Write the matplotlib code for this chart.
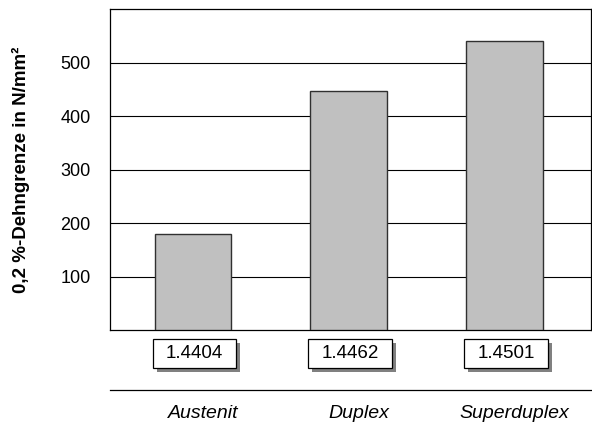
import matplotlib
matplotlib.use("Agg")
import matplotlib.pyplot as plt
from matplotlib.patches import Rectangle

categories = ["Austenit", "Duplex", "Superduplex"]
materials = ["1.4404", "1.4462", "1.4501"]
yield_strength = [180, 448, 540]
y_ticks = [100, 200, 300, 400, 500]

plt.rcParams['font.family'] = ['Liberation Sans', 'DejaVu Sans']

fig = plt.figure(figsize=(5.92, 4.25), dpi=100)
ax = fig.add_axes([0.186, 0.2235, 0.812, 0.7545])

x = list(range(len(categories)))
ax.bar(x, yield_strength, width=0.49, color='#c0c0c0', edgecolor='#303030',
       linewidth=1.0, zorder=3)

ax.set_xlim(-0.53, 2.555)
ax.set_ylim(0, 600)
ax.set_yticks(y_ticks)
ax.set_yticklabels([str(t) for t in y_ticks], fontsize=13)
ax.tick_params(axis='y', length=0, pad=14)
ax.set_xticks([])
ax.grid(axis='y', color='black', linewidth=0.8, zorder=1)
for s in ax.spines.values():
    s.set_linewidth(0.9)
    s.set_color('black')

# y label centred on the axes
fig.text(21 / 592, 0.2235 + 0.7545 / 2, "0,2 %-Dehngrenze in N/mm²",
         rotation=90, ha='center', va='center', fontsize=13.5, fontweight='bold')

# material number boxes with a grey drop shadow
trans = ax.get_xaxis_transform()
box_w, box_h = 0.535, 0.09
box_top = -0.028
for i, m in enumerate(materials):
    x0 = i - box_w / 2 + 0.01
    shadow = Rectangle((x0 + 0.026, box_top - box_h - 0.0125), box_w, box_h,
                       transform=trans, facecolor='#808080', edgecolor='none',
                       clip_on=False, zorder=4)
    box = Rectangle((x0, box_top - box_h), box_w, box_h, transform=trans,
                    facecolor='white', edgecolor='black', linewidth=0.9,
                    clip_on=False, zorder=5)
    ax.add_patch(shadow)
    ax.add_patch(box)
    ax.text(x0 + box_w / 2, box_top - box_h / 2, m, transform=trans,
            ha='center', va='center', fontsize=13.5, zorder=6)

ax.plot([-0.53, 2.555], [-0.187, -0.187], transform=trans, color='black',
        linewidth=0.9, clip_on=False)

for i, c in enumerate(categories):
    ax.text(i + 0.065, -0.26, c, transform=trans, ha='center', va='center',
            fontsize=14, style='italic')

fig.savefig("out.png", dpi=100)
